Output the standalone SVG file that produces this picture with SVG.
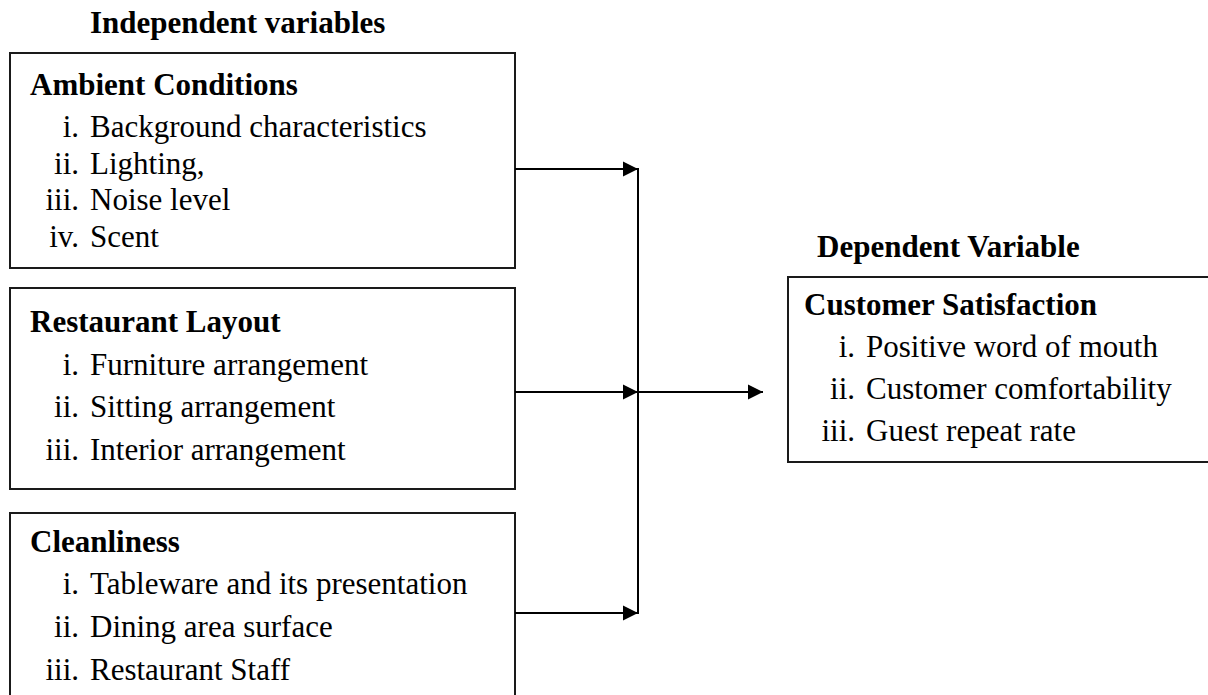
<svg xmlns="http://www.w3.org/2000/svg" width="1208" height="695" viewBox="0 0 1208 695">
<style>
text{font-family:"Liberation Serif","Times New Roman",serif;font-size:31px;fill:#000}
.b{font-weight:bold}
.n{text-anchor:end}
.box{fill:#fff;stroke:#1a1a1a;stroke-width:2}
.ln{stroke:#000;stroke-width:2;fill:none}
</style>
<defs>
<marker id="ah" markerWidth="16" markerHeight="16" refX="15" refY="8" orient="auto" markerUnits="userSpaceOnUse">
<path d="M0,0.5 L15,8 L0,15.5 Z" fill="#000"/>
</marker>
</defs>
<rect width="1208" height="695" fill="#fff"/>
<text class="b" x="90" y="33">Independent variables</text>
<text class="b" x="817" y="257">Dependent Variable</text>
<g id="ambient">
<rect class="box" x="10" y="53" width="505" height="215"/>
<text class="b" x="30" y="95">Ambient Conditions</text>
<text class="n" x="79" y="137">i.</text><text x="90" y="137">Background characteristics</text>
<text class="n" x="79" y="174">ii.</text><text x="90" y="174">Lighting,</text>
<text class="n" x="79" y="210">iii.</text><text x="90" y="210">Noise level</text>
<text class="n" x="79" y="247">iv.</text><text x="90" y="247">Scent</text>
</g>
<g id="layout">
<rect class="box" x="10" y="288" width="505" height="201"/>
<text class="b" x="30" y="332">Restaurant Layout</text>
<text class="n" x="79" y="375">i.</text><text x="90" y="375">Furniture arrangement</text>
<text class="n" x="79" y="417">ii.</text><text x="90" y="417">Sitting arrangement</text>
<text class="n" x="79" y="460">iii.</text><text x="90" y="460">Interior arrangement</text>
</g>
<g id="cleanliness">
<rect class="box" x="10" y="513" width="505" height="200"/>
<text class="b" x="30" y="552">Cleanliness</text>
<text class="n" x="79" y="594">i.</text><text x="90" y="594">Tableware and its presentation</text>
<text class="n" x="79" y="637">ii.</text><text x="90" y="637">Dining area surface</text>
<text class="n" x="79" y="680">iii.</text><text x="90" y="680">Restaurant Staff</text>
</g>
<g id="satisfaction">
<rect class="box" x="788" y="277" width="440" height="185"/>
<text class="b" x="804" y="315">Customer Satisfaction</text>
<text class="n" x="855" y="357">i.</text><text x="866" y="357">Positive word of mouth</text>
<text class="n" x="855" y="399">ii.</text><text x="866" y="399">Customer comfortability</text>
<text class="n" x="855" y="441">iii.</text><text x="866" y="441">Guest repeat rate</text>
</g>
<g id="connectors">
<line class="ln" x1="515" y1="169" x2="638" y2="169" marker-end="url(#ah)"/>
<line class="ln" x1="515" y1="392" x2="638" y2="392" marker-end="url(#ah)"/>
<line class="ln" x1="515" y1="613" x2="638" y2="613" marker-end="url(#ah)"/>
<line class="ln" x1="638" y1="168" x2="638" y2="614"/>
<line class="ln" x1="638" y1="392" x2="763" y2="392" marker-end="url(#ah)"/>
</g>
</svg>
